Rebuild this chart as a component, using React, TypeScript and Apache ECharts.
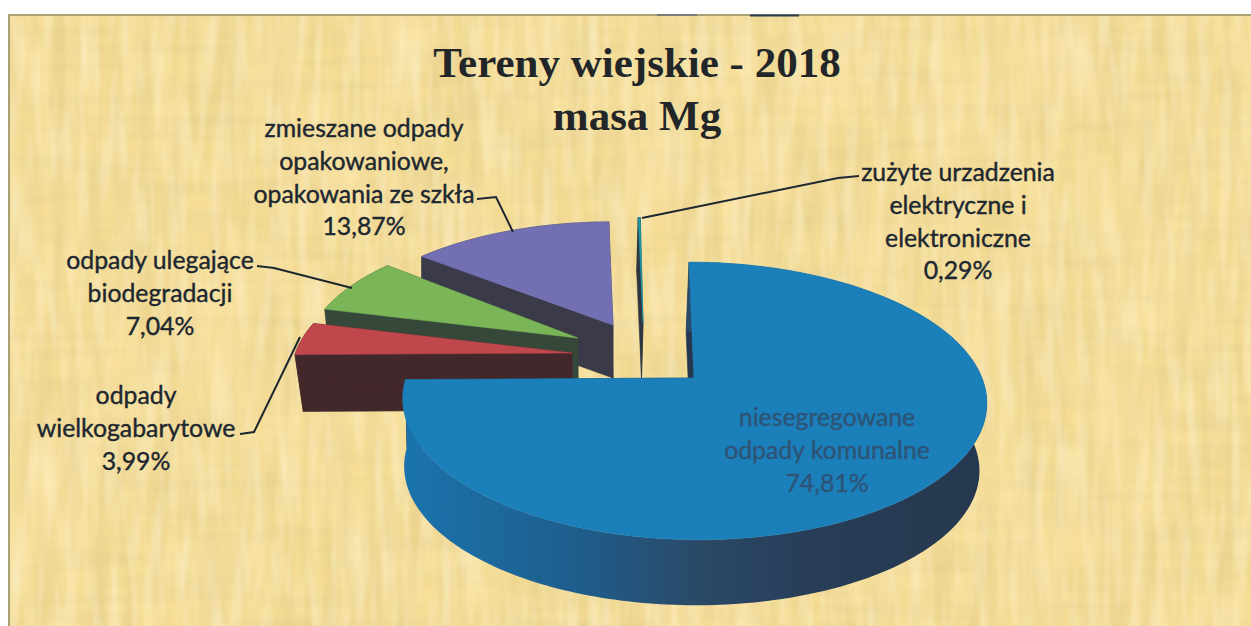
import React, { useEffect, useRef } from "react";
import * as echarts from "echarts";

const W = 1251;
const H = 626;

// Data, listed from the back of the scene to the front (anticlockwise from 12 o'clock).
const categories = [
  "zużyte urzadzenia\nelektryczne i\nelektroniczne",
  "zmieszane odpady\nopakowaniowe,\nopakowania ze szkła",
  "odpady ulegające\nbiodegradacji",
  "odpady\nwielkogabarytowe",
  "niesegregowane\nodpady komunalne",
];
const shares = [0.29, 13.87, 7.04, 3.99, 74.81];
const titleLines = ["Tereny wiejskie - 2018", "masa Mg"];

// Styling and scene layout, per slice.
const topColors = ["#1f9aab", "#7270b3", "#7ab558", "#c0474b", "#1b7fba"];
const wallColors = ["#2f3640", "#3b3a49", "#36483a", "#43282b", "#26384f"];
const labelColors = ["#1d2730", "#1d2730", "#1d2730", "#1d2730", "#2d5477"];
const apexX = [643, 613, 578, 572, 694];
const apexY = [323, 325, 338, 353, 378];
const sliceScale = [0.91, 0.89, 0.94, 0.96, 1];
const sliceWidth = [0.5, 1.06, 1, 1, 1];
const sliceShear = [3, 0, 0, 0, 5];
const wallDepth = [55, 53, 45, 57, 68];
const wallScale = [1, 1, 0.98, 0.97, 0.985];
const wallShift = [-1.5, 0, 0, 0, -3];
const labelX = [958, 364, 160, 136, 827];
const labelY = [172, 128, 260, 395, 417];
const labelLineHeight = 32.6;
const leaders: number[][][] = [
  [[859, 176], [838, 178], [642, 218]],
  [[477, 199], [496, 197], [513, 232]],
  [[257, 266], [274, 268], [352, 288]],
  [[240, 434], [254, 432], [300, 337]],
  [],
];
const frontWallStops = [
  { offset: 0, color: "#1b74ad" },
  { offset: 0.3, color: "#1e5d8c" },
  { offset: 0.5, color: "#2a4a68" },
  { offset: 0.7, color: "#283d57" },
  { offset: 1, color: "#26384f" },
];

const RX = 288;
const RY = 135;
const PERSPECTIVE = 0.165;

function rim(i: number, angle: number, s: number, dx = 0, dy = 0) {
  const X = Math.sin(angle);
  const Y = -Math.cos(angle);
  const w = 1 - PERSPECTIVE * Y;
  return [
    apexX[i] + dx + s * ((RX * sliceWidth[i] * X) / w + sliceShear[i] * Y),
    apexY[i] + dy + (s * RY * Y) / w,
  ];
}

function arcPoints(i: number, a0: number, a1: number, s: number, dx = 0, dy = 0) {
  const steps = Math.max(2, Math.ceil(Math.abs(a1 - a0) / 0.02));
  const out: number[][] = [];
  for (let k = 0; k <= steps; k++) {
    out.push(rim(i, a0 + ((a1 - a0) * k) / steps, s, dx, dy));
  }
  return out;
}

const total = shares.reduce((a, b) => a + b, 0);
const percentText = (v: number) => v.toFixed(2).replace(".", ",") + "%";

function renderSlice(params: any, api: any) {
  const i = params.dataIndex;
  const before = shares.slice(0, i).reduce((a, b) => a + b, 0);
  const value = api.value(1) as number;
  const a1 = Math.PI * 2 * (1 - before / total);
  const a0 = a1 - (Math.PI * 2 * value) / total;

  const s = sliceScale[i];
  const sb = s * wallScale[i];
  const dx = wallShift[i];
  const dy = wallDepth[i];
  const wall = wallColors[i];
  const apex = [apexX[i], apexY[i]];
  const apexLow = [apexX[i] + dx, apexY[i] + dy];

  const topArc = arcPoints(i, a0, a1, s);
  const lowArc = arcPoints(i, a0, a1, sb, dx, dy);
  const poly = (points: number[][], fill: any) => ({
    type: "polygon",
    shape: { points },
    style: { fill, stroke: typeof fill === "string" ? fill : undefined, lineWidth: 0.6 },
  });

  const isFront = i === shares.length - 1;
  const curvedWall = isFront
    ? new echarts.graphic.LinearGradient(0, 0, 1, 0, frontWallStops)
    : wall;

  const children: any[] = [
    poly([apex, rim(i, a0, s), rim(i, a0, sb, dx, dy), apexLow], wall),
    poly([apex, rim(i, a1, s), rim(i, a1, sb, dx, dy), apexLow], wall),
    poly([...topArc, ...lowArc.slice().reverse()], curvedWall),
    poly([apex, ...topArc], topColors[i]),
  ];
  return { type: "group", children };
}

function renderLabel(params: any, api: any) {
  const i = params.dataIndex;
  const value = api.value(1) as number;
  const text = categories[i] + "\n" + percentText(value);
  const children: any[] = [];
  if (leaders[i].length) {
    children.push({
      type: "polyline",
      shape: { points: leaders[i] },
      style: { fill: "none", stroke: "#1d2730", lineWidth: 2 },
      z2: 20,
    });
  }
  children.push({
    type: "text",
    x: labelX[i],
    y: labelY[i] - labelLineHeight / 2,
    z2: 30,
    style: {
      text,
      fill: labelColors[i],
      stroke: labelColors[i],
      lineWidth: 0.4,
      font: '24.8px Lato, "Noto Sans", sans-serif',
      align: "center",
      verticalAlign: "top",
      lineHeight: labelLineHeight,
    },
  });
  return { type: "group", children };
}

const rows = categories.map((c, i) => [c, shares[i]]);

// A fibrous paper texture from SVG noise filters; it carries no data.
const fibre = (id: string, freq: string, seed: number, rgb: string, gain: number, bias: number) =>
  `<filter id='${id}' x='0' y='0' width='100%' height='100%'><feTurbulence type='fractalNoise' baseFrequency='${freq}' numOctaves='2' seed='${seed}'/><feColorMatrix type='matrix' values='0 0 0 0 ${rgb.split(" ")[0]} 0 0 0 0 ${rgb.split(" ")[1]} 0 0 0 0 ${rgb.split(" ")[2]} ${gain} 0 0 0 ${bias}'/></filter><rect width='100%' height='100%' filter='url(#${id})'/>`;
const paperSvg =
  `<svg xmlns='http://www.w3.org/2000/svg' width='${W}' height='${H}'>` +
  fibre("a", "0.07 0.008", 4, "0.72 0.57 0.24", 0.9, -0.32) +
  fibre("b", "0.008 0.08", 9, "0.74 0.59 0.26", 0.8, -0.3) +
  fibre("c", "0.09 0.012", 15, "1 0.93 0.7", 1.0, -0.38) +
  fibre("d", "0.012 0.009", 21, "1 0.8 0.42", 0.9, -0.36) +
  `</svg>`;
const paperUrl = `url("data:image/svg+xml,${encodeURIComponent(paperSvg)}")`;

export default function App() {
  const ref = useRef<HTMLDivElement>(null);
  useEffect(() => {
    const chart = echarts.init(ref.current!, undefined, { renderer: "svg" });
    chart.setOption({
      animation: false,
      backgroundColor: "transparent",
      title: {
        text: titleLines.join("\n"),
        left: 637,
        top: 35.5,
        padding: 0,
        textAlign: "center",
        textStyle: {
          fontFamily: '"Liberation Serif", serif',
          fontWeight: "bold",
          fontSize: 43,
          lineHeight: 53,
          color: "#222629",
        },
      },
      graphic: [
        { type: "line", shape: { x1: 657, y1: 15, x2: 697, y2: 15 }, style: { stroke: "#6c7278", lineWidth: 1.5 } },
        { type: "line", shape: { x1: 750, y1: 15.5, x2: 799, y2: 15.5 }, style: { stroke: "#2c3c50", lineWidth: 2 } },
      ],
      series: [
        {
          type: "custom",
          coordinateSystem: "none",
          renderItem: renderSlice,
          data: rows,
          encode: { itemName: 0, value: 1 },
          silent: true,
          z: 2,
        },
        {
          type: "custom",
          coordinateSystem: "none",
          renderItem: renderLabel,
          data: rows,
          encode: { itemName: 0, value: 1 },
          silent: true,
          z: 3,
        },
      ],
    });
    return () => chart.dispose();
  }, []);

  return (
    <div style={{ position: "fixed", left: 0, top: 0, width: W, height: H, background: "#fff", overflow: "hidden" }}>
      <div
        style={{
          position: "absolute",
          left: 8,
          top: 14,
          right: 0,
          bottom: 0,
          backgroundColor: "#f5dd94",
          backgroundImage: paperUrl,
          borderLeft: "2px solid #a9a074",
          borderTop: "2px solid #a9a074",
        }}
      />
      <div ref={ref} style={{ position: "absolute", left: 0, top: 0, width: W, height: H }} />
    </div>
  );
}
